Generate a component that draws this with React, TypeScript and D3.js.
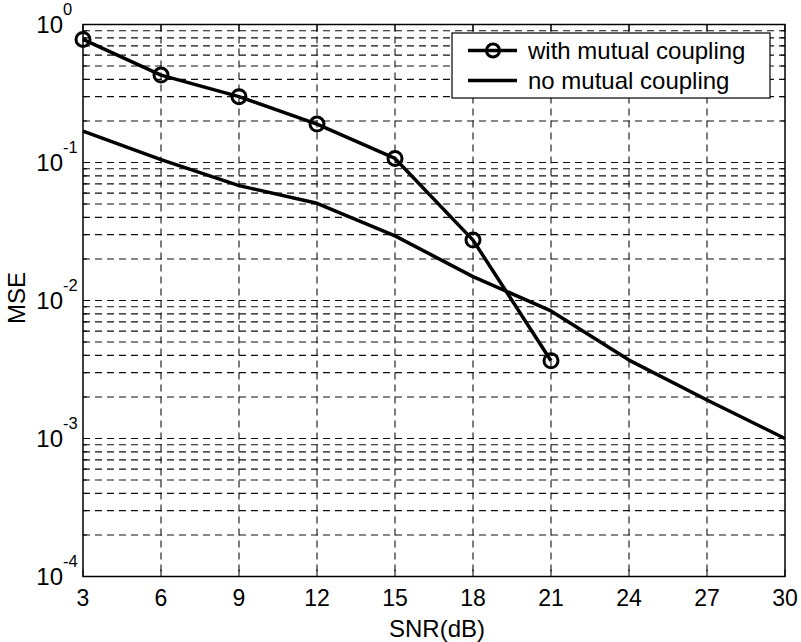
import React from "react";
import * as d3 from "d3";

const snr = [3, 6, 9, 12, 15, 18, 21, 24, 27, 30];
const withCouplingX = [3, 6, 9, 12, 15, 18, 21];
const withCouplingY = [0.78, 0.43, 0.30, 0.19, 0.107, 0.0274, 0.00366];
const noCouplingX = [3, 6, 9, 12, 15, 18, 21, 24, 27, 30];
const noCouplingY = [0.169, 0.105, 0.068, 0.0506, 0.0294, 0.0149, 0.0084, 0.0037, 0.0019, 0.001];
const yDecades = [0, -1, -2, -3, -4];
const legendLabels = ["with mutual coupling", "no mutual coupling"];

const W = 801;
const H = 642;
const L = 83, R = 785, T = 24.5, B = 576.5;
const FONT = "'Liberation Sans', Arial, Helvetica, sans-serif";

export default function App() {
  const x = d3.scaleLinear().domain([3, 30]).range([L, R]);
  const y = d3.scaleLog().domain([1e-4, 1]).range([B, T]);

  const minorVals: number[] = [];
  for (let k = -4; k < 0; k++) {
    for (let m = 1; m <= 9; m++) minorVals.push(m * Math.pow(10, k));
  }
  const hGrid = minorVals.filter((v) => v > 1e-4 * 1.0001 && v < 0.9999);
  const vGrid = snr.filter((v) => v > 3 && v < 30);

  const line = d3
    .line<[number, number]>()
    .x((d) => x(d[0]))
    .y((d) => y(d[1]));
  const withPts: [number, number][] = withCouplingX.map((v, i) => [v, withCouplingY[i]]);
  const noPts: [number, number][] = noCouplingX.map((v, i) => [v, noCouplingY[i]]);

  const dash = "7,5";
  const gridColor = "#111";

  return (
    <svg
      width={W}
      height={H}
      style={{ position: "absolute", left: 0, top: 0, background: "#fff" }}
      fontFamily={FONT}
    >
      <rect x={0} y={0} width={W} height={H} fill="#fff" />
      {/* grid */}
      <g stroke={gridColor} strokeWidth={1.1} strokeDasharray={dash} fill="none">
        {hGrid.map((v, i) => (
          <line key={"h" + i} x1={L} x2={R} y1={y(v)} y2={y(v)} />
        ))}
        {vGrid.map((v, i) => (
          <line key={"v" + i} x1={x(v)} x2={x(v)} y1={T} y2={B} />
        ))}
      </g>
      {/* ticks */}
      <g stroke="#000" strokeWidth={1}>
        {snr.map((v, i) => (
          <g key={"xt" + i}>
            <line x1={x(v)} x2={x(v)} y1={B} y2={B - 7} />
            <line x1={x(v)} x2={x(v)} y1={T} y2={T + 7} />
          </g>
        ))}
        {minorVals.map((v, i) => {
          const major = Math.abs(Math.log10(v) - Math.round(Math.log10(v))) < 1e-6;
          const len = major ? 7 : 4;
          return (
            <g key={"yt" + i}>
              <line x1={L} x2={L + len} y1={y(v)} y2={y(v)} />
              <line x1={R} x2={R - len} y1={y(v)} y2={y(v)} />
            </g>
          );
        })}
      </g>
      {/* axes box */}
      <rect x={L} y={T} width={R - L} height={B - T} fill="none" stroke="#000" strokeWidth={1.5} />
      {/* x tick labels */}
      <g fontSize={23} textAnchor="middle" fill="#000">
        {snr.map((v, i) => (
          <text key={"xl" + i} x={x(v)} y={606}>
            {v}
          </text>
        ))}
      </g>
      {/* y tick labels */}
      <g fill="#000">
        {yDecades.map((k, i) => (
          <g key={"yl" + i}>
            <text x={63} y={y(Math.pow(10, k)) + 8.5} fontSize={24} textAnchor="end">
              10
            </text>
            <text x={63} y={y(Math.pow(10, k)) - 10} fontSize={16.5} textAnchor="start">
              {k === 0 ? "0" : String(k)}
            </text>
          </g>
        ))}
      </g>
      {/* axis labels */}
      <text x={437} y={637} fontSize={24} textAnchor="middle" fill="#000">
        SNR(dB)
      </text>
      <text
        transform={`translate(25, 298) rotate(-90)`}
        fontSize={24}
        textAnchor="middle"
        fill="#000"
      >
        MSE
      </text>
      {/* series */}
      <path d={line(noPts) || ""} fill="none" stroke="#000" strokeWidth={3.5} strokeLinejoin="round" />
      <path d={line(withPts) || ""} fill="none" stroke="#000" strokeWidth={3.5} strokeLinejoin="round" />
      {withPts.map((p, i) => (
        <circle key={"c" + i} cx={x(p[0])} cy={y(p[1])} r={7} fill="none" stroke="#000" strokeWidth={3} />
      ))}
      {/* legend */}
      <rect x={452} y={33} width={318} height={65} fill="#fff" stroke="#000" strokeWidth={1.2} />
      <line x1={468} x2={517} y1={50.5} y2={50.5} stroke="#000" strokeWidth={3.5} />
      <circle cx={493} cy={50.5} r={6.5} fill="none" stroke="#000" strokeWidth={3} />
      <line x1={468} x2={517} y1={80.5} y2={80.5} stroke="#000" strokeWidth={3.5} />
      <text x={528} y={58.5} fontSize={24} fill="#000">
        {legendLabels[0]}
      </text>
      <text x={528} y={88.5} fontSize={24} fill="#000">
        {legendLabels[1]}
      </text>
    </svg>
  );
}
